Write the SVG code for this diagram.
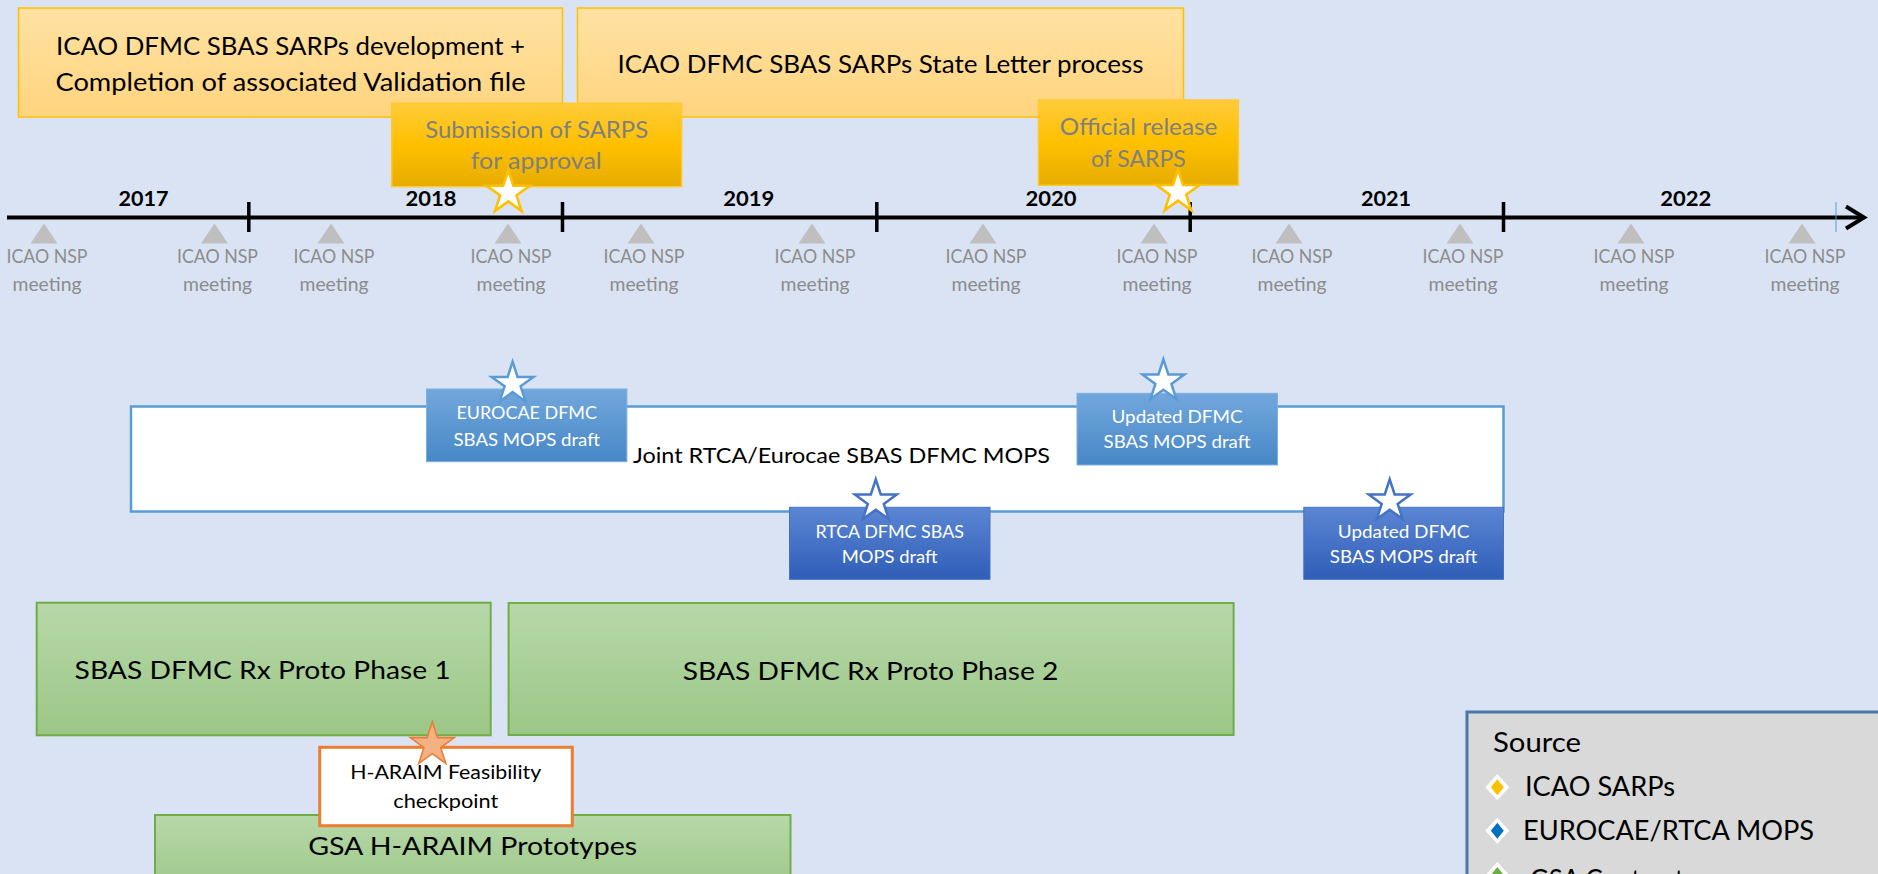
<svg xmlns="http://www.w3.org/2000/svg" width="1878" height="874" viewBox="0 0 1878 874">
<defs>
  <linearGradient id="gIcao" x1="0" y1="0" x2="0" y2="1"><stop offset="0" stop-color="#FFE2A3"/><stop offset="1" stop-color="#FFD47E"/></linearGradient>
  <linearGradient id="gGold" x1="0" y1="0" x2="0" y2="1"><stop offset="0" stop-color="#FFCB3B"/><stop offset="0.5" stop-color="#FFC000"/><stop offset="1" stop-color="#E6AC00"/></linearGradient>
  <linearGradient id="gBlue1" x1="0" y1="0" x2="0" y2="1"><stop offset="0" stop-color="#72A7DC"/><stop offset="1" stop-color="#4787C7"/></linearGradient>
  <linearGradient id="gBlue2" x1="0" y1="0" x2="0" y2="1"><stop offset="0" stop-color="#5C86D3"/><stop offset="1" stop-color="#2F5EB8"/></linearGradient>
  <linearGradient id="gGreen" x1="0" y1="0" x2="0" y2="1"><stop offset="0" stop-color="#B7D8A9"/><stop offset="1" stop-color="#9CC787"/></linearGradient>
  <path id="star" d="M0,-22 L4.94,-6.8 L20.92,-6.8 L7.99,2.6 L12.93,17.8 L0,8.4 L-12.93,17.8 L-7.99,2.6 L-20.92,-6.8 L-4.94,-6.8 Z"/>
</defs>
<style>
  text{font-family:Lato,"Liberation Sans",Arial,sans-serif}
  .icao{fill:url(#gIcao);stroke:#FFC000;stroke-width:1.5}
  .gold{fill:url(#gGold);stroke:#FFC933;stroke-width:1.5}
  .blue1{fill:url(#gBlue1);stroke:#7FB0E0;stroke-width:1}
  .blue2{fill:url(#gBlue2);stroke:#4472C4;stroke-width:1}
  .green{fill:url(#gGreen);stroke:#70AD47;stroke-width:2}
  .t-big{font-size:25.5px;fill:#000}
  .t-gray{font-size:24px;fill:#7F7F7F}
  .t-meet{font-size:18.5px;fill:#8C8C8C}
  .t-year{font-size:21px;font-weight:bold;fill:#000}
  .t-white{font-size:18px;fill:#FFFFFF}
  .t-mid{font-size:18.5px;fill:#000}
  .t-leg{font-size:27px;fill:#000}
  .tri{fill:#BFBFBF}
  .s-gold{fill:#FFFFFF;stroke:#FFC000;stroke-width:2.5}
  .s-blue1{fill:#FFFFFF;stroke:#5B9BD5;stroke-width:2.5}
  .s-blue2{fill:#FFFFFF;stroke:#4472C4;stroke-width:2.5}
  .s-orange{fill:#F4B183;stroke:#ED7D31;stroke-width:1.5}
</style>
<rect x="0" y="0" width="1878" height="874" fill="#DAE3F3"/>

<g id="sarps-dev">
  <rect class="icao" x="18.5" y="8" width="544" height="109"/>
  <text class="t-big" x="290.5" y="55" text-anchor="middle" textLength="469" lengthAdjust="spacingAndGlyphs">ICAO DFMC SBAS SARPs development +</text>
  <text class="t-big" x="290.5" y="90.7" text-anchor="middle" textLength="470" lengthAdjust="spacingAndGlyphs">Completion of associated Validation file</text>
</g>
<g id="sarps-state-letter">
  <rect class="icao" x="577.5" y="8" width="606" height="109"/>
  <text class="t-big" x="880.5" y="72.5" text-anchor="middle" textLength="526" lengthAdjust="spacingAndGlyphs">ICAO DFMC SBAS SARPs State Letter process</text>
</g>
<g id="submission">
  <rect class="gold" x="391.7" y="103.3" width="290" height="83.4"/>
  <text class="t-gray" x="536.7" y="138.3" text-anchor="middle" textLength="223" lengthAdjust="spacingAndGlyphs">Submission of SARPS</text>
  <text class="t-gray" x="536.2" y="169" text-anchor="middle" textLength="131" lengthAdjust="spacingAndGlyphs">for approval</text>
</g>
<g id="official-release">
  <rect class="gold" x="1038.4" y="100" width="200" height="85.3"/>
  <text class="t-gray" x="1138.6" y="135" text-anchor="middle" textLength="157.6" lengthAdjust="spacingAndGlyphs">Official release</text>
  <text class="t-gray" x="1138.4" y="166.7" text-anchor="middle" textLength="94.7" lengthAdjust="spacingAndGlyphs">of SARPS</text>
</g>

<g id="timeline">
  <line x1="7" y1="217.5" x2="1862" y2="217.5" stroke="#000" stroke-width="4"/>
  <polyline points="1846,206.5 1864,217.5 1846,228.5" fill="none" stroke="#000" stroke-width="4"/>
  <g stroke="#000" stroke-width="3.5">
    <line x1="248.8" y1="202" x2="248.8" y2="232"/>
    <line x1="562.5" y1="202" x2="562.5" y2="232"/>
    <line x1="876.8" y1="202" x2="876.8" y2="232"/>
    <line x1="1190.2" y1="202" x2="1190.2" y2="232"/>
    <line x1="1503.5" y1="202" x2="1503.5" y2="232"/>
  </g>
  <line x1="1836" y1="202" x2="1836" y2="232" stroke="#5B9BD5" stroke-width="1"/>
  <text class="t-year" x="143.5" y="206" text-anchor="middle" textLength="50" lengthAdjust="spacingAndGlyphs">2017</text>
  <text class="t-year" x="431" y="206" text-anchor="middle" textLength="51" lengthAdjust="spacingAndGlyphs">2018</text>
  <text class="t-year" x="748.7" y="206" text-anchor="middle" textLength="51" lengthAdjust="spacingAndGlyphs">2019</text>
  <text class="t-year" x="1050.9" y="206" text-anchor="middle" textLength="51" lengthAdjust="spacingAndGlyphs">2020</text>
  <text class="t-year" x="1386" y="206" text-anchor="middle" textLength="50" lengthAdjust="spacingAndGlyphs">2021</text>
  <text class="t-year" x="1685.7" y="206" text-anchor="middle" textLength="51" lengthAdjust="spacingAndGlyphs">2022</text>
</g>

<use href="#star" class="s-gold" transform="translate(508.3,192.7) scale(1.03)"/>
<use href="#star" class="s-gold" transform="translate(1178,192) scale(1.03)"/>

<g id="nsp-meetings">
  <polygon class="tri" points="30.5,243.5 44,223.5 57.5,243.5"/>
  <polygon class="tri" points="201,243.5 214.5,223.5 228,243.5"/>
  <polygon class="tri" points="317.5,243.5 331,223.5 344.5,243.5"/>
  <polygon class="tri" points="494.5,243.5 508,223.5 521.5,243.5"/>
  <polygon class="tri" points="627.5,243.5 641,223.5 654.5,243.5"/>
  <polygon class="tri" points="798.5,243.5 812,223.5 825.5,243.5"/>
  <polygon class="tri" points="969.5,243.5 983,223.5 996.5,243.5"/>
  <polygon class="tri" points="1140.5,243.5 1154,223.5 1167.5,243.5"/>
  <polygon class="tri" points="1275.5,243.5 1289,223.5 1302.5,243.5"/>
  <polygon class="tri" points="1446.5,243.5 1460,223.5 1473.5,243.5"/>
  <polygon class="tri" points="1617.5,243.5 1631,223.5 1644.5,243.5"/>
  <polygon class="tri" points="1788.5,243.5 1802,223.5 1815.5,243.5"/>
  <g class="t-meet" text-anchor="middle">
    <text class="t-meet" x="47" y="263.3" textLength="81" lengthAdjust="spacingAndGlyphs">ICAO NSP</text>
    <text class="t-meet" x="47" y="291" textLength="69" lengthAdjust="spacingAndGlyphs">meeting</text>
    <text class="t-meet" x="217.5" y="263.3" textLength="81" lengthAdjust="spacingAndGlyphs">ICAO NSP</text>
    <text class="t-meet" x="217.5" y="291" textLength="69" lengthAdjust="spacingAndGlyphs">meeting</text>
    <text class="t-meet" x="334" y="263.3" textLength="81" lengthAdjust="spacingAndGlyphs">ICAO NSP</text>
    <text class="t-meet" x="334" y="291" textLength="69" lengthAdjust="spacingAndGlyphs">meeting</text>
    <text class="t-meet" x="511" y="263.3" textLength="81" lengthAdjust="spacingAndGlyphs">ICAO NSP</text>
    <text class="t-meet" x="511" y="291" textLength="69" lengthAdjust="spacingAndGlyphs">meeting</text>
    <text class="t-meet" x="644" y="263.3" textLength="81" lengthAdjust="spacingAndGlyphs">ICAO NSP</text>
    <text class="t-meet" x="644" y="291" textLength="69" lengthAdjust="spacingAndGlyphs">meeting</text>
    <text class="t-meet" x="815" y="263.3" textLength="81" lengthAdjust="spacingAndGlyphs">ICAO NSP</text>
    <text class="t-meet" x="815" y="291" textLength="69" lengthAdjust="spacingAndGlyphs">meeting</text>
    <text class="t-meet" x="986" y="263.3" textLength="81" lengthAdjust="spacingAndGlyphs">ICAO NSP</text>
    <text class="t-meet" x="986" y="291" textLength="69" lengthAdjust="spacingAndGlyphs">meeting</text>
    <text class="t-meet" x="1157" y="263.3" textLength="81" lengthAdjust="spacingAndGlyphs">ICAO NSP</text>
    <text class="t-meet" x="1157" y="291" textLength="69" lengthAdjust="spacingAndGlyphs">meeting</text>
    <text class="t-meet" x="1292" y="263.3" textLength="81" lengthAdjust="spacingAndGlyphs">ICAO NSP</text>
    <text class="t-meet" x="1292" y="291" textLength="69" lengthAdjust="spacingAndGlyphs">meeting</text>
    <text class="t-meet" x="1463" y="263.3" textLength="81" lengthAdjust="spacingAndGlyphs">ICAO NSP</text>
    <text class="t-meet" x="1463" y="291" textLength="69" lengthAdjust="spacingAndGlyphs">meeting</text>
    <text class="t-meet" x="1634" y="263.3" textLength="81" lengthAdjust="spacingAndGlyphs">ICAO NSP</text>
    <text class="t-meet" x="1634" y="291" textLength="69" lengthAdjust="spacingAndGlyphs">meeting</text>
    <text class="t-meet" x="1805" y="263.3" textLength="81" lengthAdjust="spacingAndGlyphs">ICAO NSP</text>
    <text class="t-meet" x="1805" y="291" textLength="69" lengthAdjust="spacingAndGlyphs">meeting</text>
  </g>
</g>

<g id="joint-mops">
  <rect x="131" y="406.5" width="1372.5" height="105" fill="#FFFFFF" stroke="#5B9BD5" stroke-width="2.5"/>
  <text x="633" y="462.7" font-size="21px" fill="#000" textLength="417" lengthAdjust="spacingAndGlyphs">Joint RTCA/Eurocae SBAS DFMC MOPS</text>
</g>
<g id="eurocae-draft">
  <rect class="blue1" x="426.5" y="389" width="200.4" height="72.7"/>
  <text class="t-white" x="526.7" y="419.3" text-anchor="middle" textLength="140.6" lengthAdjust="spacingAndGlyphs">EUROCAE DFMC</text>
  <text class="t-white" x="526.7" y="445.7" text-anchor="middle" textLength="146.4" lengthAdjust="spacingAndGlyphs">SBAS MOPS draft</text>
  <use href="#star" class="s-blue1" transform="translate(512.6,383.7)"/>
</g>
<g id="updated-draft-eurocae">
  <rect class="blue1" x="1077" y="393.3" width="200.5" height="71.7"/>
  <text class="t-white" x="1177" y="423.3" text-anchor="middle" textLength="131" lengthAdjust="spacingAndGlyphs">Updated DFMC</text>
  <text class="t-white" x="1177" y="448.3" text-anchor="middle" textLength="147" lengthAdjust="spacingAndGlyphs">SBAS MOPS draft</text>
  <use href="#star" class="s-blue1" transform="translate(1163.4,381.3)"/>
</g>
<g id="rtca-draft">
  <rect class="blue2" x="789.5" y="507.3" width="200.5" height="72"/>
  <text class="t-white" x="889.7" y="538.3" text-anchor="middle" textLength="148.6" lengthAdjust="spacingAndGlyphs">RTCA DFMC SBAS</text>
  <text class="t-white" x="889.7" y="563.3" text-anchor="middle" textLength="96" lengthAdjust="spacingAndGlyphs">MOPS draft</text>
  <use href="#star" class="s-blue2" transform="translate(875.8,501.3)"/>
</g>
<g id="updated-draft-rtca">
  <rect class="blue2" x="1303.8" y="507.3" width="199.7" height="72"/>
  <text class="t-white" x="1403.6" y="538.3" text-anchor="middle" textLength="131.7" lengthAdjust="spacingAndGlyphs">Updated DFMC</text>
  <text class="t-white" x="1403.6" y="563.3" text-anchor="middle" textLength="147.7" lengthAdjust="spacingAndGlyphs">SBAS MOPS draft</text>
  <use href="#star" class="s-blue2" transform="translate(1389.7,501.3)"/>
</g>

<g id="proto-phase1">
  <rect class="green" x="36.7" y="602.7" width="454" height="132.6"/>
  <text class="t-big" x="262.6" y="679.3" text-anchor="middle" textLength="376" lengthAdjust="spacingAndGlyphs">SBAS DFMC Rx Proto Phase 1</text>
</g>
<g id="proto-phase2">
  <rect class="green" x="508.6" y="603" width="725" height="132"/>
  <text class="t-big" x="870.6" y="680" text-anchor="middle" textLength="375.6" lengthAdjust="spacingAndGlyphs">SBAS DFMC Rx Proto Phase 2</text>
</g>
<g id="gsa-haraim">
  <rect class="green" x="155" y="815" width="635.5" height="80"/>
  <text class="t-big" x="472.7" y="855" text-anchor="middle" textLength="329" lengthAdjust="spacingAndGlyphs">GSA H-ARAIM Prototypes</text>
</g>
<g id="haraim-checkpoint">
  <rect x="319.7" y="747.3" width="252.6" height="78.4" fill="#FFFFFF" stroke="#ED7D31" stroke-width="3"/>
  <text class="t-mid" x="445.7" y="779.3" text-anchor="middle" textLength="191" lengthAdjust="spacingAndGlyphs">H-ARAIM Feasibility</text>
  <text class="t-mid" x="445.8" y="808.3" text-anchor="middle" textLength="105" lengthAdjust="spacingAndGlyphs">checkpoint</text>
  <use href="#star" class="s-orange" transform="translate(432.3,744.8) scale(1.05)"/>
</g>

<g id="legend">
  <rect x="1467" y="712" width="430" height="200" fill="#D9D9D9" stroke="#4A76A8" stroke-width="3"/>
  <text class="t-leg" x="1493" y="751.7" textLength="88" lengthAdjust="spacingAndGlyphs">Source</text>
  <polygon points="1497.3,774.3 1509.3,787.3 1497.3,800.3 1485.3,787.3" fill="#FFFFFF"/>
  <polygon points="1497.3,779.3 1503.8,787.3 1497.3,795.3 1490.8,787.3" fill="#FFC000"/>
  <text class="t-leg" x="1525" y="796" textLength="150" lengthAdjust="spacingAndGlyphs">ICAO SARPs</text>
  <polygon points="1497.3,817.7 1509.3,830.7 1497.3,843.7 1485.3,830.7" fill="#FFFFFF"/>
  <polygon points="1497.3,822.7 1503.8,830.7 1497.3,838.7 1490.8,830.7" fill="#0070C0"/>
  <text class="t-leg" x="1523" y="840" textLength="291" lengthAdjust="spacingAndGlyphs">EUROCAE/RTCA MOPS</text>
  <polygon points="1497.3,862 1509.3,875 1497.3,888 1485.3,875" fill="#FFFFFF"/>
  <polygon points="1497.3,867 1503.8,875 1497.3,883 1490.8,875" fill="#70AD47"/>
  <text class="t-leg" x="1530" y="889" textLength="165" lengthAdjust="spacingAndGlyphs">GSA Contracts</text>
</g>
</svg>
